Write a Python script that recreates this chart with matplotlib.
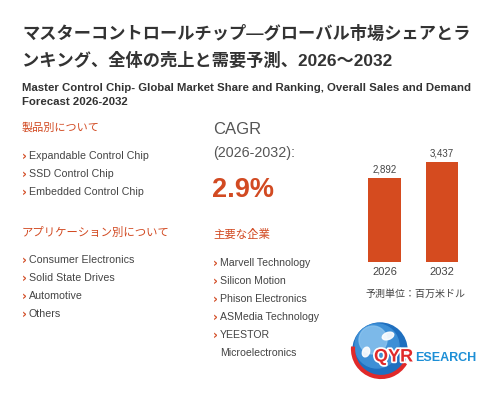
import numpy as np
import matplotlib.pyplot as plt
import matplotlib.patheffects as pe
from matplotlib.patches import Circle, Arc, Ellipse

plt.rcParams['font.family'] = ['Liberation Sans', 'Noto Sans CJK JP', 'DejaVu Sans']

title_jp = ["マスターコントロールチップ—グローバル市場シェアとラ",
            "ンキング、全体の売上と需要予測、2026～2032"]
title_en = ["Master Control Chip- Global Market Share and Ranking, Overall Sales and Demand",
            "Forecast 2026-2032"]
hdr_type = "製品別について"
types = ["Expandable Control Chip", "SSD Control Chip", "Embedded Control Chip"]
hdr_app = "アプリケーション別について"
apps = ["Consumer Electronics", "Solid State Drives", "Automotive", "Others"]
cagr_lbl = ["CAGR", "(2026-2032):"]
cagr_val = "2.9%"
hdr_comp = "主要な企業"
companies = ["Marvell Technology", "Silicon Motion", "Phison Electronics",
             "ASMedia Technology", "YEESTOR\nMicroelectronics"]
years = ["2026", "2032"]
sales = [2892, 3437]
unit = "予測単位：百万米ドル"

red = '#d24a22'
dark = '#333333'
grey = '#444444'

fig = plt.figure(figsize=(5.03, 4.0), dpi=100)
bg = fig.add_axes([0, 0, 1, 1])
bg.set_xlim(0, 503)
bg.set_ylim(400, 0)
bg.axis('off')

# titles
for i, t in enumerate(title_jp):
    bg.text(22, 33 + i * 27, t, fontsize=12.4, fontweight='bold', color=dark, va='center')
for i, t in enumerate(title_en):
    bg.text(22, 88 + i * 14, t, fontsize=8.2, fontweight='bold', color=dark, va='center')

def bullets(x, y0, items, size, step=18):
    y = y0
    for it in items:
        bg.text(x, y, '›', fontsize=8.5, fontweight='bold', color=red, va='center',
                family='DejaVu Sans')
        for ln in it.split('\n'):
            bg.text(x + 7, y, ln, fontsize=size, color=grey, va='center')
            y += step

# left column
bg.text(22, 128, hdr_type, fontsize=8, color=red, va='center')
bullets(22, 156, types, 7.7)
bg.text(22, 232, hdr_app, fontsize=8.2, color=red, va='center')
bullets(22, 260, apps, 7.7)

# middle column
bg.text(213, 130, cagr_lbl[0], fontsize=12, color='#555555', va='center')
bg.text(213, 153, cagr_lbl[1], fontsize=10.3, color='#555555', va='center')
bg.text(212, 190, cagr_val, fontsize=19.5, fontweight='bold', color=red, va='center')
bg.text(213, 234, hdr_comp, fontsize=8.2, color=red, va='center')
bullets(213, 263, companies, 7.6)

# bar chart
px0, px1 = 340, 490
ax = fig.add_axes([px0 / 503, (400 - 262) / 400, (px1 - px0) / 503, 122 / 400])
ax.set_xlim(-(384.5 - px0) / 57.5, 1 + (px1 - 442) / 57.5)
ax.set_ylim(0, 122 * 2892 / 84)
ax.bar(range(len(years)), sales, width=0.565, color='#d54b1f')
for i, v in enumerate(sales):
    ax.text(i, v + 120, f"{v:,}", ha='center', va='bottom', fontsize=7, color=grey)
ax.axis('off')
for i, y in enumerate(years):
    bg.text(384.5 + i * 57.5, 272, y, ha='center', va='center', fontsize=8, color=grey)
bg.text(416, 294, unit, ha='center', va='center', fontsize=7.2, color=grey)

# logo
bg.add_patch(Circle((380, 350), 27, color='#1f6fbf', zorder=2))
bg.add_patch(Circle((377, 346), 22, color='#3d8fd6', zorder=2))
bg.add_patch(Circle((373, 340), 14, color='#8cc4ee', zorder=2, alpha=0.8))
bg.add_patch(Ellipse((388, 336), 12, 7, angle=-20, color='white', zorder=3, alpha=0.9))
bg.add_patch(Ellipse((366, 352), 7, 10, angle=20, color='white', zorder=3, alpha=0.9))
bg.add_patch(Arc((381, 349), 56, 56, theta1=30, theta2=185, color='#e02a2a', lw=3, zorder=3))
bg.text(374, 357, 'QYR', fontsize=13, fontweight='bold', color='#e02a2a', va='center', zorder=4,
        path_effects=[pe.withStroke(linewidth=2.5, foreground='white')])
bg.text(415, 358, 'ESEARCH', fontsize=9, fontweight='bold', color='#1d8fd6', va='center', zorder=4)

fig.savefig('out.png', dpi=100)
